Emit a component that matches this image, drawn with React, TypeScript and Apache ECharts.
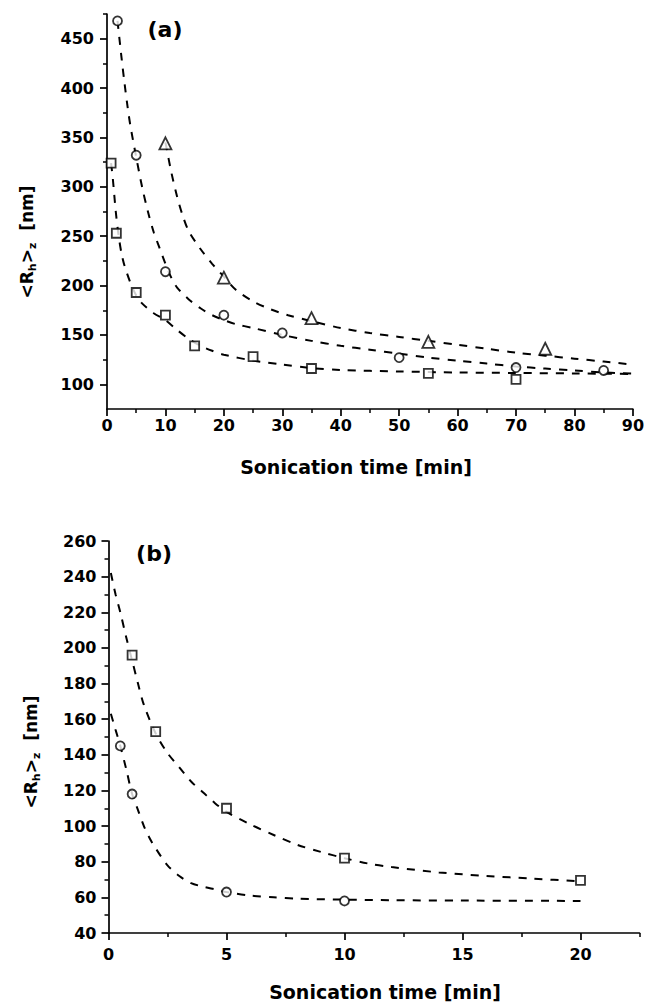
import React, { useEffect, useRef } from 'react';
import * as echarts from 'echarts';

// ---------- Panel (a) ----------
const aCircleX = [1.8, 5, 10, 20, 30, 50, 70, 85];
const aCircleY = [468, 332, 214, 170, 152, 127, 117, 114];
const aSquareX = [0.7, 1.6, 5, 10, 15, 25, 35, 55, 70];
const aSquareY = [324, 253, 193, 170, 139, 128, 116, 111, 105];
const aTriX = [10, 20, 35, 55, 75];
const aTriY = [344, 208, 167, 143, 136];

// dashed fit curves
const aCircleFitX = [1.8, 2.5, 3, 3.5, 4, 5, 6, 7, 8, 9, 10, 11, 12, 14, 16, 18, 20, 22, 25, 30, 35, 40, 45, 50, 55, 60, 65, 70, 75, 80, 85, 90];
const aCircleFitY = [468, 430, 405, 382, 362, 330, 300, 275, 254, 238, 222, 208, 198, 186, 177, 170, 165, 161, 157, 150, 144, 139, 135, 131, 127, 124, 121, 118, 116, 114, 112, 111];
const aSquareFitX = [0.7, 1, 1.5, 2, 2.5, 3, 4, 5, 6, 8, 10, 12, 14, 16, 18, 20, 25, 30, 35, 40, 50, 60, 70, 80, 90];
const aSquareFitY = [324, 308, 275, 250, 232, 220, 203, 190, 182, 172, 165, 155, 146, 139, 134, 130, 124, 120, 116.5, 114.5, 113, 112, 111.5, 111, 110.5];
const aTriFitX = [10, 11, 12, 13, 14, 16, 18, 20, 22, 25, 28, 31, 35, 40, 45, 50, 55, 60, 65, 70, 75, 80, 85, 90];
const aTriFitY = [345, 315, 290, 270, 255, 237, 222, 209, 196, 184, 176, 170, 164, 157, 152, 148, 144, 140, 136, 132, 129, 126, 123, 120];

const aXMajor = [0, 10, 20, 30, 40, 50, 60, 70, 80, 90];
const aXMinor = [5, 15, 25, 35, 45, 55, 65, 75, 85];
const aYMajor = [100, 150, 200, 250, 300, 350, 400, 450];
const aYMinor = [125, 175, 225, 275, 325, 375, 425, 475];

// ---------- Panel (b) ----------
const bSquareX = [1, 2, 5, 10, 20];
const bSquareY = [196, 153, 110, 82, 69.5];
const bCircleX = [0.5, 1, 5, 10];
const bCircleY = [145, 118, 63, 58];

const bSquareFitX = [0.1, 0.3, 0.5, 0.75, 1, 1.25, 1.5, 2, 2.5, 3, 3.5, 4, 4.5, 5, 6, 7, 8, 9, 10, 11, 12, 14, 16, 18, 20];
const bSquareFitY = [242, 230, 220, 206, 193, 180, 168, 152, 141, 133, 125, 119, 113, 108, 101, 95, 89.5, 85.5, 82, 79, 77, 74, 72, 70.5, 69];
const bCircleFitX = [0.1, 0.3, 0.5, 0.75, 1, 1.25, 1.5, 1.75, 2, 2.5, 3, 3.5, 4, 4.5, 5, 6, 7, 8, 10, 12, 15, 20];
const bCircleFitY = [163, 154, 145, 132, 118, 109, 100, 93, 87.5, 78, 72, 68, 66, 64.5, 63, 61, 60, 59.3, 58.7, 58.4, 58.2, 58];

const bXMajor = [0, 5, 10, 15, 20];
const bXMinor = [2.5, 7.5, 12.5, 17.5, 22.5];
const bYMajor = [40, 60, 80, 100, 120, 140, 160, 180, 200, 220, 240, 260];
const bYMinor = [50, 70, 90, 110, 130, 150, 170, 190, 210, 230, 250];

const FONT = '"DejaVu Sans", sans-serif';

const zip = (xs: number[], ys: number[]) => xs.map((x, i) => [x, ys[i]]);

function xAxes(gridIndex: number, min: number, max: number, major: number[], minor: number[], labelMargin: number) {
  return [
    {
      type: 'value', gridIndex, min, max, position: 'bottom',
      splitLine: { show: false },
      axisLine: { show: true, onZero: false, lineStyle: { color: '#000', width: 1.7 } },
      axisTick: { show: true, inside: false, length: 7, customValues: major, lineStyle: { color: '#000', width: 1.7 } },
      axisLabel: { customValues: major, margin: labelMargin, color: '#000', fontFamily: FONT, fontWeight: 'bold', fontSize: 16 },
    },
    {
      type: 'value', gridIndex, min, max, position: 'bottom',
      splitLine: { show: false },
      axisLine: { show: false },
      axisTick: { show: true, length: 4, customValues: minor, lineStyle: { color: '#000', width: 1.5 } },
      axisLabel: { show: false },
    },
  ];
}

function yAxes(gridIndex: number, min: number, max: number, major: number[], minor: number[], labelMargin: number) {
  return [
    {
      type: 'value', gridIndex, min, max, position: 'left',
      splitLine: { show: false },
      axisLine: { show: true, onZero: false, lineStyle: { color: '#000', width: 1.7 } },
      axisTick: { show: true, length: 7, customValues: major, lineStyle: { color: '#000', width: 1.7 } },
      axisLabel: { customValues: major, margin: labelMargin, color: '#000', fontFamily: FONT, fontWeight: 'bold', fontSize: 16 },
    },
    {
      type: 'value', gridIndex, min, max, position: 'left',
      splitLine: { show: false },
      axisLine: { show: false },
      axisTick: { show: true, length: 4, customValues: minor, lineStyle: { color: '#000', width: 1.5 } },
      axisLabel: { show: false },
    },
  ];
}

const dash = { color: '#000', width: 2, type: [8, 8] as any };
const marker = { color: '#fff', borderColor: '#000', borderWidth: 1.8 };

function fitSeries(xAxisIndex: number, yAxisIndex: number, data: number[][]) {
  return {
    type: 'line', xAxisIndex, yAxisIndex, data, showSymbol: false, smooth: 0.3,
    lineStyle: dash, z: 2, silent: true,
  };
}
function pointSeries(xAxisIndex: number, yAxisIndex: number, data: number[][], symbol: string, size: number) {
  return {
    type: 'scatter', xAxisIndex, yAxisIndex, data, symbol, symbolSize: size,
    itemStyle: marker, z: 3, silent: true,
  };
}

function yTitle(x: number, y: number) {
  return {
    type: 'text', x, y, rotation: Math.PI / 2,
    style: {
      text: '{b|<R}{s|h}{b|>}{s|z}{b|  [nm]}',
      align: 'center', verticalAlign: 'middle', fill: '#000',
      rich: {
        b: { fontFamily: FONT, fontWeight: 'bold', fontSize: 17, lineHeight: 22, verticalAlign: 'middle' },
        s: { fontFamily: FONT, fontWeight: 'bold', fontSize: 11, lineHeight: 12, verticalAlign: 'bottom' },
      },
    },
  };
}
function plainText(x: number, y: number, text: string, size: number) {
  return {
    type: 'text', x, y,
    style: { text, align: 'center', verticalAlign: 'middle', fill: '#000', fontFamily: FONT, fontWeight: 'bold', fontSize: size },
  };
}

export default function App() {
  const ref = useRef<HTMLDivElement>(null);
  useEffect(() => {
    if (!ref.current) return;
    const chart = echarts.init(ref.current, null, { renderer: 'svg' });
    chart.setOption({
      animation: false,
      backgroundColor: '#fff',
      grid: [
        { left: 107, top: 14, width: 531, height: 395 },
        { left: 108.5, top: 541, width: 531, height: 392 },
      ],
      xAxis: [
        ...xAxes(0, 0, 90, aXMajor, aXMinor, 8),
        ...xAxes(1, 0, 22.5, bXMajor, bXMinor, 13),
      ],
      yAxis: [
        ...yAxes(0, 75, 475, aYMajor, aYMinor, 13),
        ...yAxes(1, 40, 260, bYMajor, bYMinor, 12),
      ],
      series: [
        fitSeries(0, 0, zip(aCircleFitX, aCircleFitY)),
        fitSeries(0, 0, zip(aSquareFitX, aSquareFitY)),
        fitSeries(0, 0, zip(aTriFitX, aTriFitY)),
        pointSeries(0, 0, zip(aCircleX, aCircleY), 'circle', 9),
        pointSeries(0, 0, zip(aSquareX, aSquareY), 'rect', 9),
        pointSeries(0, 0, zip(aTriX, aTriY), 'triangle', 12),
        fitSeries(2, 2, zip(bSquareFitX, bSquareFitY)),
        fitSeries(2, 2, zip(bCircleFitX, bCircleFitY)),
        pointSeries(2, 2, zip(bSquareX, bSquareY), 'rect', 9),
        pointSeries(2, 2, zip(bCircleX, bCircleY), 'circle', 9),
      ],
      graphic: [
        plainText(165, 29, '(a)', 22),
        plainText(154, 553, '(b)', 22),
        plainText(356, 467, 'Sonication time [min]', 19),
        plainText(385, 992, 'Sonication time [min]', 19),
        yTitle(27, 242),
        yTitle(31, 752),
      ],
    });
    return () => chart.dispose();
  }, []);
  return <div ref={ref} style={{ position: 'fixed', left: 0, top: 0, width: 647, height: 1004 }} />;
}
